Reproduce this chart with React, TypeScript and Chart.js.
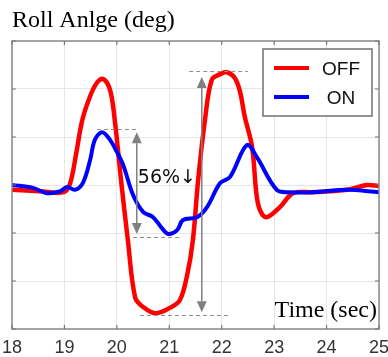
import React, { useEffect, useRef } from "react";
import { Chart, registerables } from "chart.js";

Chart.register(...registerables);

// ---- data ----
const xTicks = [18, 19, 20, 21, 22, 23, 24, 25];
const yGrid = [-3, -2, -1, 0, 1, 2, 3];

const offTime = [18.0, 18.53, 18.99, 19.11, 19.22, 19.34, 19.49, 19.62, 19.74, 19.87, 19.96, 20.08, 20.21, 20.35, 20.5, 20.73, 21.01, 21.2, 21.34, 21.45, 21.55, 21.68, 21.81, 21.97, 22.1, 22.25, 22.35, 22.44, 22.58, 22.69, 22.84, 23.11, 23.36, 23.74, 24.39, 24.77, 25.0];
const offValue = [-0.1, -0.13, -0.15, 0.04, 0.63, 1.35, 1.85, 2.13, 2.21, 1.98, 1.35, 0.1, -1.15, -2.35, -2.54, -2.67, -2.56, -2.4, -1.88, -1.15, 0.1, 1.35, 2.19, 2.31, 2.35, 2.23, 1.94, 1.42, 0.79, -0.38, -0.67, -0.46, -0.17, -0.15, -0.1, 0.0, -0.02];

const onTime = [18.0, 18.4, 18.67, 18.92, 19.05, 19.2, 19.35, 19.49, 19.58, 19.72, 19.87, 20.0, 20.12, 20.31, 20.5, 20.69, 20.86, 20.98, 21.15, 21.26, 21.53, 21.72, 21.97, 22.16, 22.48, 22.67, 23.05, 23.3, 23.74, 24.39, 25.0];
const onValue = [0.0, -0.06, -0.17, -0.13, -0.04, -0.1, 0.04, 0.52, 0.94, 1.1, 0.94, 0.69, 0.42, -0.21, -0.56, -0.67, -0.9, -1.02, -0.94, -0.73, -0.67, -0.46, 0.04, 0.17, 0.83, 0.58, -0.1, -0.15, -0.15, -0.1, -0.15];

const seriesLabels = ["OFF", "ON"];
const seriesColors = ["#ff0000", "#0000ff"];

const titleText = "Roll Anlge (deg)";
const xAxisText = "Time (sec)";
const reductionText = "56%\u2193";

// annotations: [value, tStart, tEnd]
const onPeakLine = [1.17, 19.62, 20.4];
const onTroughLine = [-1.08, 20.31, 21.2];
const offPeakLine = [2.375, 21.38, 22.5];
const offTroughLine = [-2.71, 20.44, 22.16];
// arrows: [t, topTip, bottomTip]
const onArrow = [20.38, 1.1, -1.02];
const offArrow = [21.62, 2.25, -2.65];
// label position [t, v]
const reductionPos = [20.4, 0.04];

const overlay = {
  id: "overlay",
  afterDatasetsDraw(chart: any) {
    const { ctx, chartArea: a, scales } = chart;
    const x = scales.x;
    const y = scales.y;
    ctx.save();

    // frame
    ctx.strokeStyle = "#8a8a8a";
    ctx.lineWidth = 1.5;
    ctx.strokeRect(a.left, a.top, a.right - a.left, a.bottom - a.top);

    // inward tick marks
    ctx.lineWidth = 1.2;
    ctx.strokeStyle = "#777";
    const tl = 4;
    xTicks.forEach((t) => {
      const px = x.getPixelForValue(t);
      ctx.beginPath();
      ctx.moveTo(px, a.bottom);
      ctx.lineTo(px, a.bottom - tl);
      ctx.moveTo(px, a.top);
      ctx.lineTo(px, a.top + tl);
      ctx.stroke();
    });
    yGrid.forEach((v) => {
      const py = y.getPixelForValue(v);
      ctx.beginPath();
      ctx.moveTo(a.left, py);
      ctx.lineTo(a.left + tl, py);
      ctx.moveTo(a.right, py);
      ctx.lineTo(a.right - tl, py);
      ctx.stroke();
    });

    // x tick labels
    ctx.fillStyle = "#333";
    ctx.font = '18px "Liberation Sans", Arial, sans-serif';
    ctx.textAlign = "center";
    ctx.textBaseline = "alphabetic";
    xTicks.forEach((t) => {
      ctx.fillText(String(t), x.getPixelForValue(t), a.bottom + 24);
    });

    // dashed reference lines
    ctx.setLineDash([4, 3]);
    ctx.strokeStyle = "#8f8f8f";
    ctx.lineWidth = 1;
    [onPeakLine, onTroughLine, offPeakLine, offTroughLine].forEach(([v, t0, t1]) => {
      const py = Math.round(y.getPixelForValue(v)) + 0.5;
      ctx.beginPath();
      ctx.moveTo(x.getPixelForValue(t0), py);
      ctx.lineTo(x.getPixelForValue(t1), py);
      ctx.stroke();
    });
    ctx.setLineDash([]);

    // double arrows
    ctx.strokeStyle = "#808080";
    ctx.fillStyle = "#808080";
    ctx.lineWidth = 1.5;
    const hw = 5;
    const hh = 11;
    [onArrow, offArrow].forEach(([t, v0, v1]) => {
      const px = x.getPixelForValue(t);
      const top = y.getPixelForValue(v0);
      const bot = y.getPixelForValue(v1);
      ctx.beginPath();
      ctx.moveTo(px, top + hh);
      ctx.lineTo(px, bot - hh);
      ctx.stroke();
      ctx.beginPath();
      ctx.moveTo(px, top);
      ctx.lineTo(px - hw, top + hh);
      ctx.lineTo(px + hw, top + hh);
      ctx.closePath();
      ctx.fill();
      ctx.beginPath();
      ctx.moveTo(px, bot);
      ctx.lineTo(px - hw, bot - hh);
      ctx.lineTo(px + hw, bot - hh);
      ctx.closePath();
      ctx.fill();
    });

    // reduction label
    ctx.fillStyle = "#111";
    ctx.font = '19px "DejaVu Sans", "Liberation Sans", sans-serif';
    ctx.textAlign = "left";
    ctx.textBaseline = "alphabetic";
    ctx.fillText(reductionText, x.getPixelForValue(reductionPos[0]), y.getPixelForValue(reductionPos[1]));

    // x axis name inside plot
    ctx.font = '24px "Liberation Serif", "Times New Roman", serif';
    ctx.textAlign = "right";
    ctx.fillStyle = "#000";
    ctx.fillText(xAxisText, a.right - 2, a.bottom - 12);

    // title
    ctx.textAlign = "left";
    ctx.fillText(titleText, a.left, 27);

    // legend
    const lw = 109;
    const lh = 67;
    const lx = a.right - 7 - lw;
    const ly = a.top + 8;
    ctx.fillStyle = "#fff";
    ctx.fillRect(lx, ly, lw, lh);
    ctx.strokeStyle = "#707070";
    ctx.lineWidth = 1.5;
    ctx.strokeRect(lx, ly, lw, lh);
    ctx.font = '19px "Liberation Sans", Arial, sans-serif';
    ctx.textAlign = "center";
    seriesLabels.forEach((lab, i) => {
      const cy = ly + 19 + i * 29;
      ctx.strokeStyle = seriesColors[i];
      ctx.lineWidth = 4;
      ctx.beginPath();
      ctx.moveTo(lx + 11, cy);
      ctx.lineTo(lx + 46, cy);
      ctx.stroke();
      ctx.fillStyle = "#111";
      ctx.fillText(lab, lx + 78, cy + 7);
    });

    ctx.restore();
  },
};

export default function App() {
  const ref = useRef<HTMLCanvasElement | null>(null);
  useEffect(() => {
    document.body.style.margin = "0";
    if (!ref.current) return;
    const chart = new Chart(ref.current, {
      type: "line",
      data: {
        datasets: [
          {
            label: seriesLabels[0],
            data: offTime.map((t, i) => ({ x: t, y: offValue[i] })),
            borderColor: seriesColors[0],
            borderWidth: 4.5,
            pointRadius: 0,
            tension: 0.35,
            fill: false,
            order: 2,
          },
          {
            label: seriesLabels[1],
            data: onTime.map((t, i) => ({ x: t, y: onValue[i] })),
            borderColor: seriesColors[1],
            borderWidth: 4,
            pointRadius: 0,
            tension: 0.35,
            fill: false,
            order: 1,
          },
        ],
      },
      options: {
        responsive: false,
        animation: false,
        layout: { padding: { left: 12, right: 9, top: 41, bottom: 0 } },
        plugins: {
          legend: { display: false },
          tooltip: { enabled: false },
          title: { display: false },
        },
        scales: {
          x: {
            type: "linear",
            min: 18,
            max: 25,
            afterBuildTicks: (s: any) => {
              s.ticks = xTicks.map((v) => ({ value: v }));
            },
            afterFit: (s: any) => {
              s.height = 28;
            },
            ticks: { display: false },
            grid: { color: "#e6e6e6", lineWidth: 1, drawTicks: false },
            border: { display: false },
          },
          y: {
            type: "linear",
            min: -3,
            max: 3,
            afterBuildTicks: (s: any) => {
              s.ticks = yGrid.map((v) => ({ value: v }));
            },
            afterFit: (s: any) => {
              s.width = 0;
            },
            ticks: { display: false },
            grid: { color: "#e6e6e6", lineWidth: 1, drawTicks: false },
            border: { display: false },
          },
        },
      },
      plugins: [overlay],
    });
    return () => chart.destroy();
  }, []);
  return (
    <div style={{ width: 388, height: 357, background: "#fff" }}>
      <canvas ref={ref} width={388} height={357} />
    </div>
  );
}
